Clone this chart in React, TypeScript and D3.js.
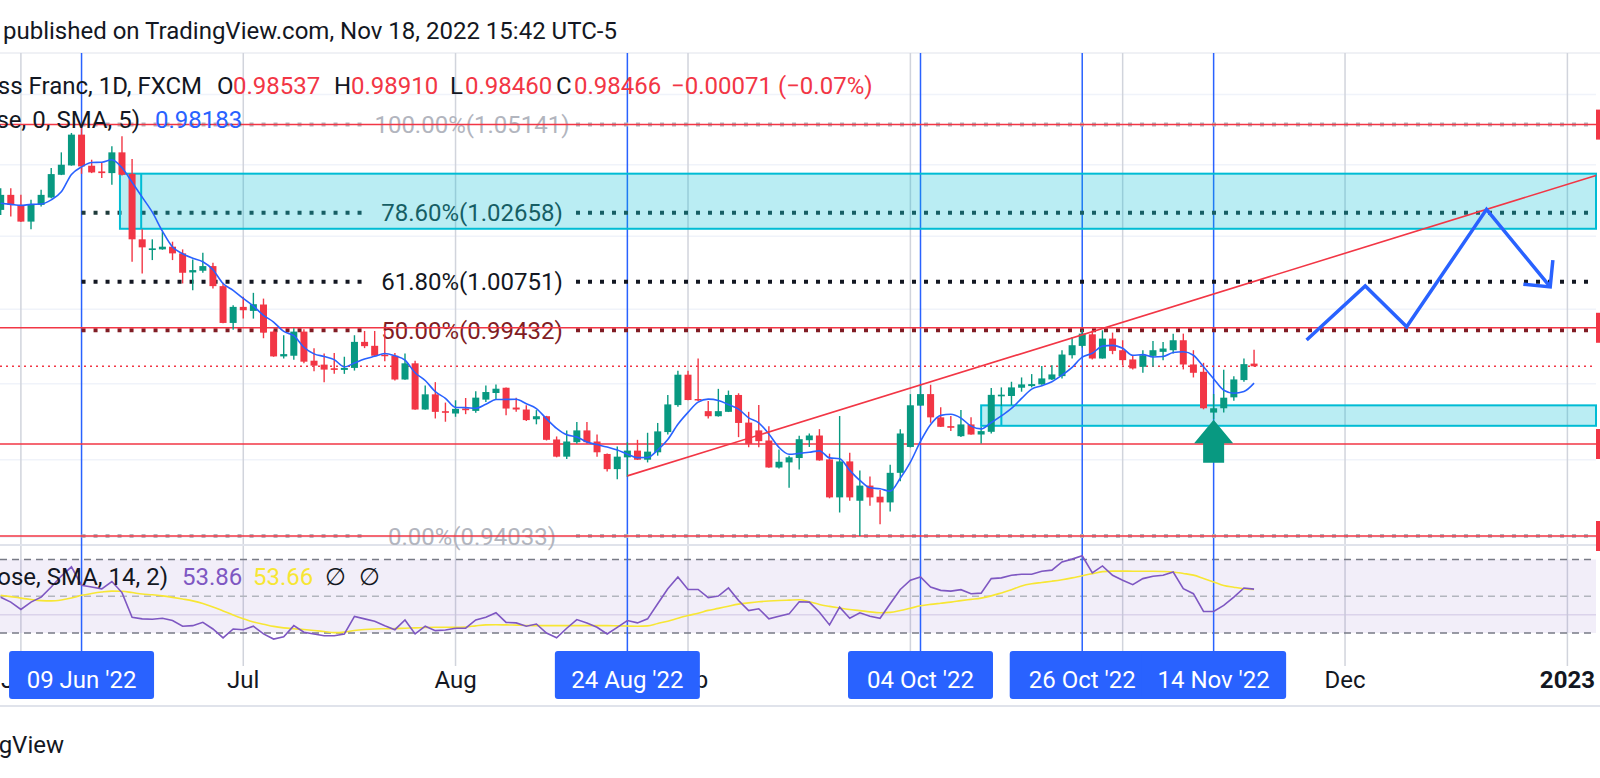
import React from 'react';
import * as d3 from 'd3';

// USD/CHF daily, TradingView snapshot 18 Nov 2022
// bar index 0 = 1 Jun 2022, weekdays only; first visible bar is 30 May (index -2)
const FIRST_INDEX = -2;

const W = 1600;
const H = 778;
const PANE_RIGHT = 1596;
const FONT = 'Roboto, "Noto Sans", sans-serif';

const UP = '#089981';
const DOWN = '#f23645';
const BLUE = '#2962ff';
const TEXT = '#131722';

const opens = [
  1.02735, 1.03155, 1.02875, 1.02409, 1.02875, 1.0308, 1.03719, 1.03983, 1.04855, 1.03974,
  1.03813, 1.03766, 1.04352, 1.03747, 1.01918, 1.01622, 1.0164, 1.01714, 1.0153, 1.01006,
  1.01052, 1.0118, 1.00631, 0.99631, 1.00066, 0.99957, 1.0013, 0.99397, 0.9873, 0.98748,
  0.99397, 0.98615, 0.9851, 0.98413, 0.98369, 0.98422, 0.9912, 0.99014, 0.98775, 0.98748,
  0.98113, 0.98545, 0.97317, 0.97719, 0.97273, 0.97212, 0.97343, 0.97281, 0.97579, 0.97754,
  0.97894, 0.97369, 0.97317, 0.9706, 0.9714, 0.96529, 0.9608, 0.96458, 0.96767, 0.96476,
  0.9615, 0.95755, 0.96062, 0.96238, 0.96, 0.96194, 0.96723, 0.97434, 0.98241, 0.97595,
  0.97274, 0.9714, 0.97256, 0.97702, 0.96972, 0.96767, 0.96502, 0.95798, 0.9593, 0.96044,
  0.96509, 0.96633, 0.96009, 0.95024, 0.95956, 0.94937, 0.95328, 0.95041, 0.94894, 0.95659,
  0.96333, 0.9742, 0.97725, 0.9711, 0.9688, 0.96615, 0.96924, 0.96659, 0.9673, 0.97666,
  0.97675, 0.97894, 0.97938, 0.97983, 0.98115, 0.98203, 0.98762, 0.99012, 0.99324, 0.98674,
  0.99208, 0.98896, 0.98648, 0.98452, 0.98744, 0.98852, 0.98896, 0.99164, 0.98514, 0.98319,
  0.97236, 0.9735, 0.97639, 0.98098, 0.98537,
];
const highs = [
  1.03342, 1.03342, 1.03155, 1.03015, 1.03296, 1.03907, 1.04352, 1.04903, 1.05112, 1.04144,
  1.04049, 1.04523, 1.04808, 1.04163, 1.02196, 1.01918, 1.02131, 1.01853, 1.0164, 1.01363,
  1.01548, 1.01272, 1.00722, 1.00111, 1.00339, 1.00448, 1.00291, 0.99432, 0.99299, 0.99486,
  0.99459, 0.98952, 0.9881, 0.98819, 0.98721, 0.99299, 0.99414, 0.99414, 0.99432, 0.98819,
  0.9881, 0.98615, 0.97955, 0.98043, 0.975, 0.97561, 0.97622, 0.97798, 0.97955, 0.97982,
  0.979, 0.97631, 0.9743, 0.97301, 0.9715, 0.96608, 0.96767, 0.96989, 0.96989, 0.96661,
  0.9616, 0.96343, 0.96458, 0.9652, 0.96705, 0.96963, 0.97702, 0.98349, 0.98349, 0.98673,
  0.97542, 0.97864, 0.97819, 0.97747, 0.97256, 0.97434, 0.96874, 0.96265, 0.96106, 0.96624,
  0.96686, 0.968, 0.96158, 0.97145, 0.96184, 0.9572, 0.95562, 0.95215, 0.95869, 0.968,
  0.97725, 0.97973, 0.97973, 0.97376, 0.97145, 0.97304, 0.9711, 0.96862, 0.97884, 0.97903,
  0.98053, 0.98168, 0.98257, 0.9847, 0.98496, 0.98896, 0.99253, 0.9945, 0.99432, 0.99432,
  0.9937, 0.99164, 0.98762, 0.98896, 0.99146, 0.99119, 0.99342, 0.99342, 0.98896, 0.98558,
  0.97727, 0.98372, 0.98203, 0.98674, 0.9891,
];
const lows = [
  1.02595, 1.02549, 1.024, 1.02196, 1.02828, 1.03061, 1.0371, 1.03975, 1.03747, 1.03766,
  1.03625, 1.03437, 1.037, 1.01299, 1.00978, 1.01345, 1.0163, 1.01345, 1.00704, 1.00521,
  1.00997, 1.00566, 0.9962, 0.9945, 0.99748, 0.99748, 0.99218, 0.9872, 0.98677, 0.98642,
  0.98545, 0.98333, 0.98043, 0.98263, 0.98263, 0.98351, 0.98952, 0.9874, 0.98598, 0.98087,
  0.98105, 0.9731, 0.9731, 0.97081, 0.96995, 0.97125, 0.97194, 0.97229, 0.97517, 0.97579,
  0.97168, 0.97255, 0.97012, 0.96927, 0.96502, 0.96062, 0.96018, 0.96414, 0.96414, 0.9608,
  0.95693, 0.95492, 0.95553, 0.95992, 0.9593, 0.96106, 0.96661, 0.9739, 0.9756, 0.97542,
  0.97078, 0.9713, 0.9725, 0.9659, 0.96326, 0.96326, 0.9579, 0.95772, 0.95274, 0.95747,
  0.96333, 0.95975, 0.95, 0.94635, 0.94937, 0.94033, 0.94808, 0.94333, 0.94661, 0.95441,
  0.9632, 0.9741, 0.96968, 0.96855, 0.96748, 0.96597, 0.9665, 0.96421, 0.96686, 0.9741,
  0.97437, 0.97789, 0.97903, 0.97975, 0.98098, 0.98142, 0.98674, 0.98967, 0.98648, 0.9867,
  0.98789, 0.98496, 0.98382, 0.98292, 0.98452, 0.9863, 0.98807, 0.98382, 0.98168, 0.97323,
  0.9706, 0.97236, 0.97551, 0.98053, 0.9846,
];
const closes = [
  1.03155, 1.02875, 1.02409, 1.02893, 1.03155, 1.03738, 1.04002, 1.04855, 1.03955, 1.03785,
  1.03766, 1.04352, 1.03719, 1.01918, 1.01696, 1.01668, 1.01714, 1.0153, 1.00997, 1.0107,
  1.0118, 1.00631, 0.99631, 1.00066, 0.99975, 1.00139, 0.9937, 0.9873, 0.98792, 0.99397,
  0.98589, 0.98483, 0.98377, 0.98369, 0.98422, 0.9912, 0.99005, 0.98748, 0.98739, 0.98113,
  0.98545, 0.97317, 0.97719, 0.97255, 0.9723, 0.97334, 0.97299, 0.97631, 0.9778, 0.97868,
  0.97343, 0.97317, 0.97038, 0.9714, 0.9652, 0.9608, 0.96476, 0.96767, 0.96458, 0.96194,
  0.95755, 0.9608, 0.96238, 0.96, 0.96211, 0.96741, 0.97452, 0.98241, 0.97568, 0.9756,
  0.9714, 0.97274, 0.97702, 0.96963, 0.96414, 0.96485, 0.95798, 0.95947, 0.96062, 0.96536,
  0.96633, 0.95982, 0.95024, 0.95956, 0.95024, 0.95328, 0.95024, 0.94894, 0.95659, 0.96686,
  0.97429, 0.97725, 0.9711, 0.96862, 0.96836, 0.96924, 0.96659, 0.96748, 0.97705, 0.9771,
  0.97903, 0.97983, 0.97991, 0.98142, 0.98248, 0.9878, 0.9903, 0.99342, 0.98674, 0.99208,
  0.98878, 0.9863, 0.98408, 0.98762, 0.98896, 0.98941, 0.99164, 0.98514, 0.98292, 0.9735,
  0.9735, 0.9763, 0.98115, 0.98523, 0.98466,
];

// MA(5) of the four first bars (their history is off screen)
const smaLead = [1.0292, 1.0289, 1.0286, 1.0289];

const rsiValues = [
  49.5, 46.8, 42.8, 46.8, 49.5, 55, 61, 66, 56, 55,
  54, 58, 52, 38.6, 37.7, 37.5, 38, 36.8, 33.7, 34,
  35.8, 32.2, 27.3, 32.2, 31.8, 33.7, 29.5, 26.7, 28, 34,
  30.4, 29.5, 28.5, 28.5, 29.5, 39, 37.7, 36.4, 34, 31.8,
  37.1, 29.5, 33.7, 31.3, 31.6, 32.6, 32.6, 37.1, 38.6, 41,
  35.8, 35.5, 33.7, 34.9, 30, 27.4, 32.6, 37.3, 35.5, 33.1,
  29.5, 33.1, 36.8, 35.5, 37.7, 45.9, 54.1, 60.5, 53.7, 53.7,
  49.2, 50.1, 54.5, 47.7, 42.2, 43.2, 37.7, 39.1, 40.4, 47,
  46.8, 41.3, 34.4, 44.1, 38, 41, 39.1, 38, 45.9, 53.7,
  58.7, 60.5, 55, 53.2, 52.8, 53.6, 51.4, 51.7, 59.6, 60,
  61.4, 62, 62, 63.6, 64.2, 68.7, 70.2, 72, 62.7, 66.5,
  61.4, 58.7, 56.3, 59.6, 60.9, 61.4, 63.2, 54.1, 51.4, 41.7,
  41.7, 45, 49.5, 54.5, 53.86,
];
const rsiMaValues = [
  50.5, 49.8, 49, 48.2, 47.6, 47.5, 48, 49, 50.5, 51.5,
  52.3, 52.8, 52.7, 52, 51.2, 50.8, 50.2, 49.4, 48.5, 47.5,
  46.1, 44.2, 42, 39.8, 37.8, 36, 34.8, 33.6, 32.8, 32.3,
  31.9, 31.4, 30.8, 30.2, 30.5, 31.4, 31.9, 32.2, 32.3, 32.4,
  32.6, 32.8, 33, 33.1, 33.1, 33.1, 33.3, 33.9, 34.4, 34.5,
  34.4, 34.3, 34.1, 34, 34, 34, 34, 34, 34, 34,
  34, 33.9, 33.8, 33.7, 33.9, 35.2, 36.4, 38, 39.5, 40.8,
  42.3, 43.4, 44.6, 45.7, 46.4, 47, 47.4, 47.7, 47.9, 48.1,
  47, 45.5, 44.5, 43.6, 42.8, 42.2, 41.5, 41, 41.2, 42.2,
  43.5, 44.8, 45.6, 46.2, 46.8, 47.6, 48.3, 49, 50.2, 51.8,
  53.5, 55.6, 56.8, 57.5, 58.2, 59, 60, 61.2, 62.3, 63.4,
  63.7, 63.7, 63.6, 63.6, 63.6, 63.5, 63.2, 62.4, 61.5, 59.7,
  57.8, 55.8, 54.9, 54.1, 53.66,
];

// month starts; Oct and Nov labels sit under the date badges, so only their grid lines show
const monthTicks = [
  { idx: 0, label: 'Jun', bold: false, shown: true },
  { idx: 22, label: 'Jul', bold: false, shown: true },
  { idx: 43, label: 'Aug', bold: false, shown: true },
  { idx: 66, label: 'Sep', bold: false, shown: true },
  { idx: 88, label: 'Oct', bold: false, shown: false },
  { idx: 109, label: 'Nov', bold: false, shown: false },
  { idx: 131, label: 'Dec', bold: false, shown: true },
  { idx: 153, label: '2023', bold: true, shown: true },
];

const dateMarkers = [
  { idx: 6, label: "09 Jun '22" },
  { idx: 60, label: "24 Aug '22" },
  { idx: 89, label: "04 Oct '22" },
  { idx: 105, label: "26 Oct '22" },
  { idx: 118, label: "14 Nov '22" },
];

const priceGrid = [1.06, 1.04, 1.02, 1.0, 0.98, 0.96, 0.94];
const redLevels = [1.05141, 0.995, 0.9641, 0.94033];
const lastPrice = 0.98466;

const fibStart = 6;
const fibLevels = [
  { text: '100.00%(1.05141)', price: 1.05141, color: '#b2b5be' },
  { text: '78.60%(1.02658)', price: 1.02658, color: '#1f3b3b' },
  { text: '61.80%(1.00751)', price: 1.00751, color: '#131722' },
  { text: '50.00%(0.99432)', price: 0.99432, color: '#7f1d24' },
  { text: '0.00%(0.94033)', price: 0.94033, color: '#b2b5be' },
];

const zones = [
  { from: 9.8, split: 11.9, top: 1.0375, bottom: 1.0221 },
  { from: 95, split: 97, top: 0.97427, bottom: 0.96888 },
];

const trendAnchors: [number, number][] = [[60, 0.9558], [145, 1.0275]];
const forecastPath: [number, number][] = [
  [127.2, 0.9917], [133, 1.00637], [137.1, 0.99528], [145, 1.0275], [151.3, 1.00609],
];
const upArrowAt: [number, number] = [118, 0.9705];

export default function App() {
  const x = d3.scaleLinear().domain([0, 153]).range([20.9, 1567.4]);
  const y = d3.scaleLog().domain([0.94033, 1.05141]).range([536, 124.6]);
  const r = d3.scaleLinear().domain([30, 70]).range([633, 559.5]);

  const bars = closes.map((c, i) => ({
    idx: i + FIRST_INDEX, o: opens[i], h: highs[i], l: lows[i], c,
  }));

  const sma = bars.map((b, i) =>
    i < smaLead.length ? smaLead[i] : d3.mean(closes.slice(i - 4, i + 1)) as number
  );

  const smaLine = d3.line<number>().x((_, i) => x(i + FIRST_INDEX)).y((d) => y(d)).curve(d3.curveMonotoneX);
  const rsiLine = d3.line<number>().x((_, i) => x(i + FIRST_INDEX)).y((d) => r(d));
  const maLine = d3.line<number>().x((_, i) => x(i + FIRST_INDEX)).y((d) => r(d)).curve(d3.curveMonotoneX);
  const pathLine = d3.line<[number, number]>().x((d) => x(d[0])).y((d) => y(d[1]));

  // trend line extended to the pane edge
  const t0 = [x(trendAnchors[0][0]), y(trendAnchors[0][1])];
  const t1 = [x(trendAnchors[1][0]), y(trendAnchors[1][1])];
  const slope = (t1[1] - t0[1]) / (t1[0] - t0[0]);
  const tEnd = [PANE_RIGHT, t0[1] + slope * (PANE_RIGHT - t0[0])];

  // forecast arrow head
  const pA = forecastPath[forecastPath.length - 2];
  const pB = forecastPath[forecastPath.length - 1];
  const tipX = x(pB[0]);
  const tipY = y(pB[1]);
  const back = Math.atan2(y(pA[1]) - tipY, x(pA[0]) - tipX);
  const wing = (a: number) => `${tipX + 27 * Math.cos(a)},${tipY + 27 * Math.sin(a)}`;

  const ax = x(upArrowAt[0]);
  const ay = y(upArrowAt[1]);

  const bodyW = 7;
  const paneTop = 53;
  const badgeTop = 651;

  return (
    <div style={{ position: 'absolute', left: 0, top: 0 }}>
      <svg width={W} height={H} style={{ display: 'block', background: '#fff', fontFamily: FONT }}>
        {/* header */}
        <text x={3} y={39} fontSize={24} fill={TEXT}>
          published on TradingView.com, Nov 18, 2022 15:42 UTC-5
        </text>
        <line x1={0} x2={W} y1={paneTop} y2={paneTop} stroke="#e0e3eb" strokeWidth={1} />

        {/* grid */}
        {priceGrid.map((p) => (
          <line key={p} x1={0} x2={PANE_RIGHT} y1={y(p)} y2={y(p)} stroke="#f0f3fa" strokeWidth={1.5} />
        ))}
        <line x1={0} x2={PANE_RIGHT} y1={r(40)} y2={r(40)} stroke="#e6e1f0" strokeWidth={1.5} />
        {monthTicks.map((m) => (
          <line key={m.label} x1={x(m.idx)} x2={x(m.idx)} y1={paneTop} y2={666} stroke="#d1d4dc" strokeWidth={1.5} />
        ))}
        <line x1={0} x2={PANE_RIGHT} y1={545} y2={545} stroke="#e0e3eb" strokeWidth={2} />

        {/* RSI pane background and bands */}
        <rect x={0} y={r(70)} width={PANE_RIGHT} height={r(30) - r(70)} fill="rgba(126,87,194,0.1)" />
        <line x1={0} x2={PANE_RIGHT} y1={r(70)} y2={r(70)} stroke="#787b86" strokeWidth={1.5} strokeDasharray="7 5" />
        <line x1={0} x2={PANE_RIGHT} y1={r(50)} y2={r(50)} stroke="#b2b5be" strokeWidth={1.5} strokeDasharray="7 5" />
        <line x1={0} x2={PANE_RIGHT} y1={r(30)} y2={r(30)} stroke="#787b86" strokeWidth={1.5} strokeDasharray="7 5" />

        {/* date marker verticals */}
        {dateMarkers.map((d) => (
          <line key={d.label} x1={x(d.idx)} x2={x(d.idx)} y1={paneTop} y2={badgeTop + 2} stroke={BLUE} strokeWidth={1.5} />
        ))}

        {/* fib levels */}
        {fibLevels.map((f) => {
          const yy = y(f.price);
          return (
            <g key={f.text}>
              <line x1={x(fibStart)} x2={368} y1={yy} y2={yy} stroke={f.color} strokeWidth={4} strokeDasharray="4 8" />
              <line x1={576} x2={PANE_RIGHT} y1={yy} y2={yy} stroke={f.color} strokeWidth={4} strokeDasharray="4 8" />
              <text x={472} y={yy + 8.5} fontSize={24} fill={f.color} textAnchor="middle">{f.text}</text>
            </g>
          );
        })}

        {/* horizontal red levels */}
        {redLevels.map((p) => (
          <g key={p}>
            <line x1={0} x2={PANE_RIGHT} y1={y(p)} y2={y(p)} stroke={DOWN} strokeWidth={1.5} />
            <rect x={PANE_RIGHT} y={y(p) - 15} width={6} height={30} fill={DOWN} />
          </g>
        ))}
        <line x1={0} x2={PANE_RIGHT} y1={y(lastPrice)} y2={y(lastPrice)} stroke={DOWN} strokeWidth={1.5} strokeDasharray="2 4" />

        {/* zones */}
        {zones.map((z) => (
          <g key={z.from}>
            <rect x={x(z.from)} y={y(z.top)} width={PANE_RIGHT - x(z.from)} height={y(z.bottom) - y(z.top)}
              fill="rgba(0,188,212,0.27)" stroke="#00bcd4" strokeWidth={2} />
            <line x1={x(z.split)} x2={x(z.split)} y1={y(z.top)} y2={y(z.bottom)} stroke="#00bcd4" strokeWidth={2} />
          </g>
        ))}

        {/* candles */}
        {bars.map((b) => {
          const col = b.c >= b.o ? UP : DOWN;
          const cx = x(b.idx);
          const top = y(Math.max(b.o, b.c));
          const bot = y(Math.min(b.o, b.c));
          return (
            <g key={b.idx}>
              <line x1={cx} x2={cx} y1={y(b.h)} y2={y(b.l)} stroke={col} strokeWidth={1.4} />
              <rect x={cx - bodyW / 2} y={top} width={bodyW} height={Math.max(1.5, bot - top)} fill={col} />
            </g>
          );
        })}

        {/* MA 5 */}
        <path d={smaLine(sma) || ''} fill="none" stroke={BLUE} strokeWidth={1.6} />

        {/* drawings */}
        <line x1={t0[0]} y1={t0[1]} x2={tEnd[0]} y2={tEnd[1]} stroke={DOWN} strokeWidth={1.6} />
        <path d={pathLine(forecastPath) || ''} fill="none" stroke={BLUE} strokeWidth={3.5} strokeLinejoin="miter" />
        <polyline points={`${wing(back + Math.PI / 4)} ${tipX},${tipY} ${wing(back - Math.PI / 4)}`}
          fill="none" stroke={BLUE} strokeWidth={3.5} />
        <path
          d={`M${ax},${ay} L${ax + 19.5},${ay + 23.5} L${ax + 10.5},${ay + 23.5} L${ax + 10.5},${ay + 43} L${ax - 10.5},${ay + 43} L${ax - 10.5},${ay + 23.5} L${ax - 19.5},${ay + 23.5} Z`}
          fill={UP}
        />

        {/* RSI */}
        <path d={maLine(rsiMaValues) || ''} fill="none" stroke="#f7e634" strokeWidth={1.6} />
        <path d={rsiLine(rsiValues) || ''} fill="none" stroke="#7e57c2" strokeWidth={1.6} />

        {/* legends */}
        <g fontSize={24}>
          <text x={202} y={94} textAnchor="end" fill={TEXT}>U.S. Dollar / Swiss Franc, 1D, FXCM</text>
          <text x={217} y={94} fill={TEXT}>O</text>
          <text x={233} y={94} fill={DOWN}>0.98537</text>
          <text x={334} y={94} fill={TEXT}>H</text>
          <text x={351} y={94} fill={DOWN}>0.98910</text>
          <text x={450} y={94} fill={TEXT}>L</text>
          <text x={465} y={94} fill={DOWN}>0.98460</text>
          <text x={556} y={94} fill={TEXT}>C</text>
          <text x={574} y={94} fill={DOWN}>0.98466</text>
          <text x={671} y={94} fill={DOWN}>−0.00071 (−0.07%)</text>

          <text x={140} y={128} textAnchor="end" fill={TEXT}>MA (5, close, 0, SMA, 5)</text>
          <text x={155} y={128} fill={BLUE}>0.98183</text>

          <text x={168} y={585} textAnchor="end" fill={TEXT}>RSI (14, close, SMA, 14, 2)</text>
          <text x={182} y={585} fill="#7e57c2">53.86</text>
          <text x={253} y={585} fill="#f7e634">53.66</text>
          <text x={325} y={585} fill={TEXT}>∅</text>
          <text x={359} y={585} fill={TEXT}>∅</text>
        </g>

        {/* time axis */}
        {monthTicks.filter((m) => m.shown).map((m) => (
          <text key={m.label} x={x(m.idx)} y={688} fontSize={24} textAnchor="middle"
            fill={TEXT} fontWeight={m.bold ? 700 : 400}>{m.label}</text>
        ))}
        {dateMarkers.map((d) => (
          <g key={d.label}>
            <rect x={x(d.idx) - 72.5} y={badgeTop} width={145} height={48} rx={3} fill={BLUE} />
            <text x={x(d.idx)} y={688} fontSize={24} textAnchor="middle" fill="#fff">{d.label}</text>
          </g>
        ))}
        <line x1={0} x2={W} y1={706} y2={706} stroke="#e0e3eb" strokeWidth={2} />

        <text x={64} y={753} fontSize={24} textAnchor="end" fill={TEXT}>TradingView</text>
      </svg>
    </div>
  );
}
